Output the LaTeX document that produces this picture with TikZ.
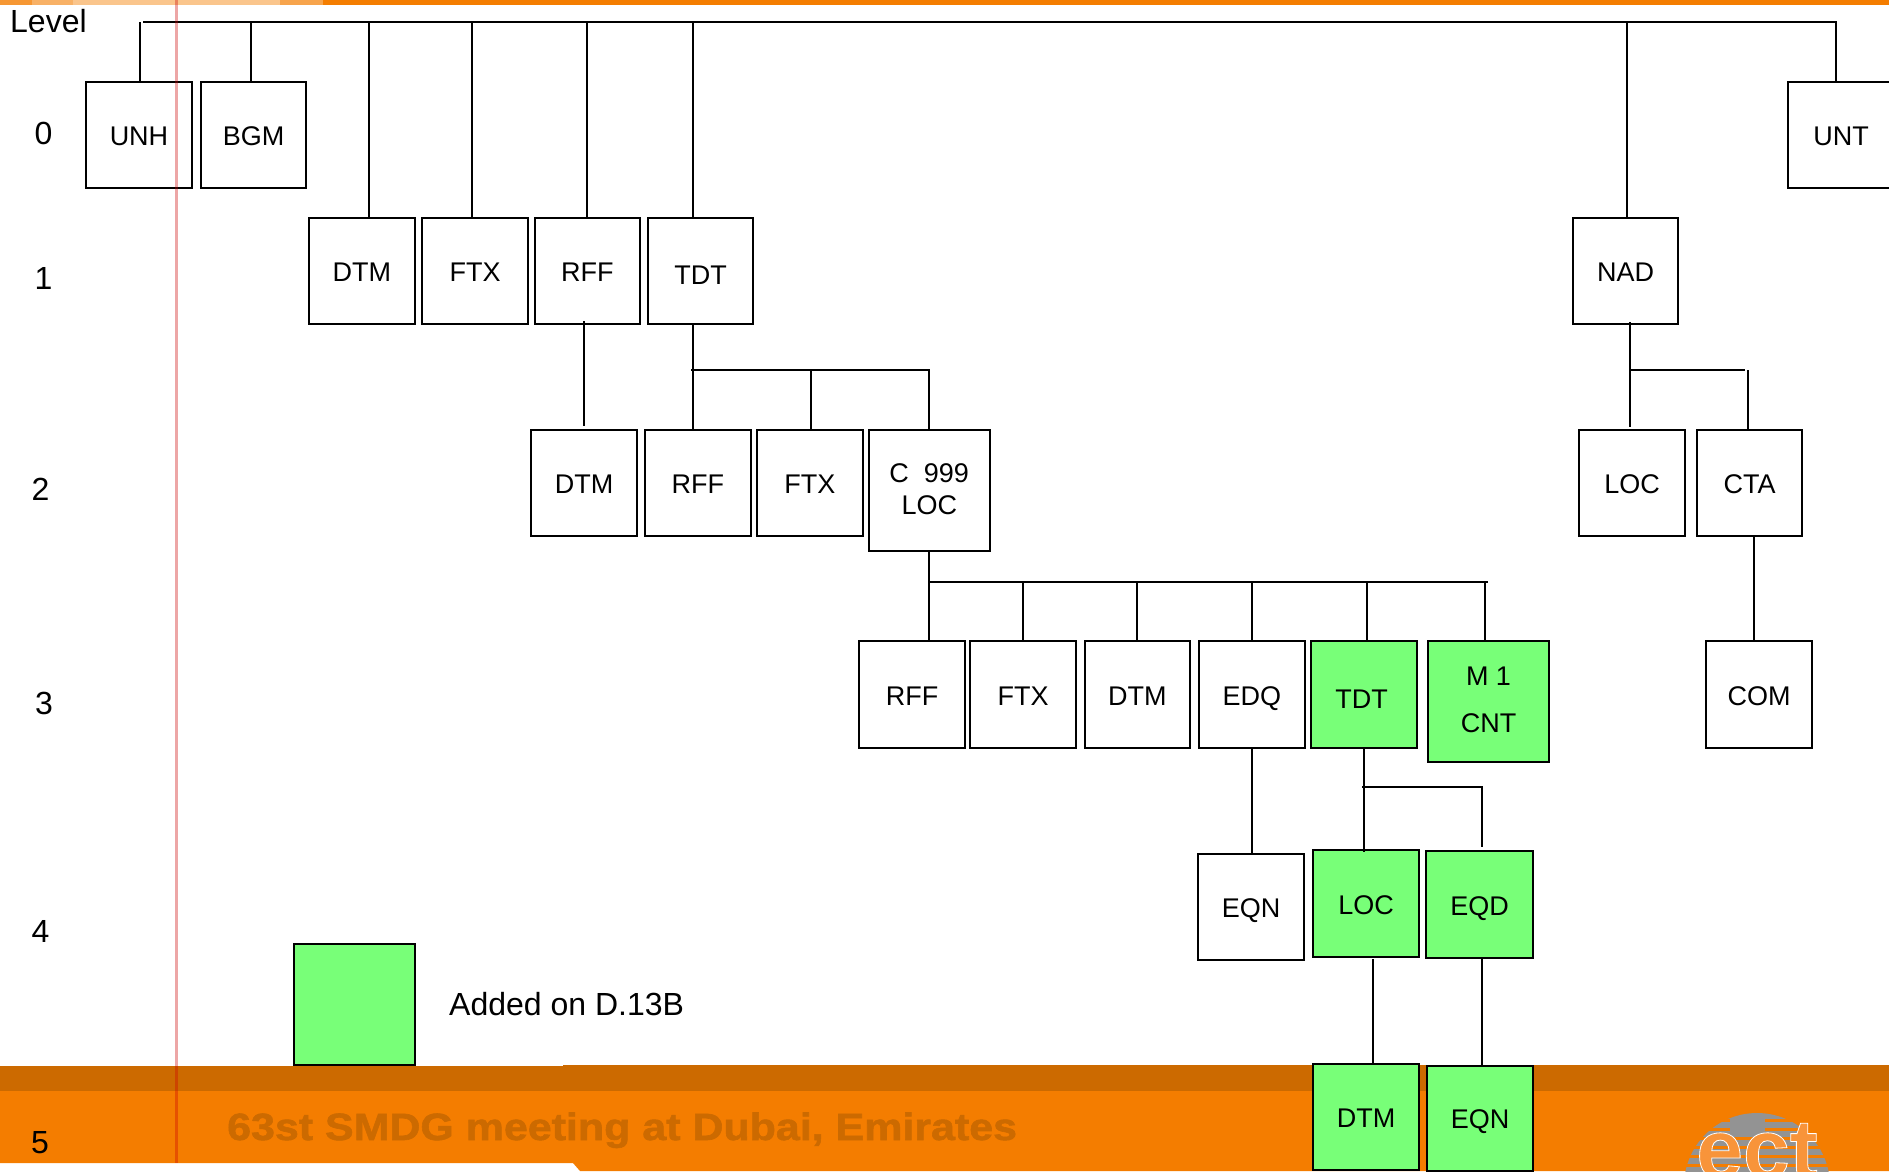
\documentclass[tikz,border=0pt]{standalone}
\usepackage{fontspec}
\setmainfont{Liberation Sans}
\definecolor{addgreen}{HTML}{78FF78}
\definecolor{bandorange}{HTML}{F47D00}
\definecolor{banddark}{HTML}{CC6A00}
\definecolor{logoorange}{HTML}{F8943A}
\tikzset{
  x=1pt,y=-1pt,
  conn/.style={line width=2pt,black,line cap=butt},
  seg/.style={draw=black,line width=2pt,fill=white,inner sep=0pt,align=center,text height=21pt,text depth=0pt,font=\fontsize{27}{32}\selectfont},
  added/.style={seg,fill=addgreen},
  multi/.style={text height={},text depth={}},
  lvl/.style={font=\fontsize{32}{36}\selectfont,inner sep=0pt},
}
\newcommand{\segbox}[7][seg]{% style, name, x1,y1,x2,y2, text
  \node[#1,minimum width={(#5)-(#3)},minimum height={(#6)-(#4)}] (#2) at ({((#3)+(#5))/2},{((#4)+(#6))/2}) {#7};}
\begin{document}
\begin{tikzpicture}
\useasboundingbox (0,0) rectangle (1889,1171);
\clip (0,0) rectangle (1889,1171);
% page decoration
\fill[bandorange] (323,0) rectangle (1889,5);
\fill[bandorange!80!white] (0,0) rectangle (32,5);
\fill[bandorange!60!white] (32,0) rectangle (73,5);
\fill[bandorange!45!white] (73,0) rectangle (280,5);
\fill[bandorange!70!white] (280,0) rectangle (323,5);
\fill[bandorange] (0,1091) -- (1889,1091) -- (1889,1171) -- (580,1171) -- (573,1163) -- (0,1163) -- cycle;
\fill[banddark] (0,1066) rectangle (563,1091);
\fill[banddark] (563,1064.5) rectangle (1889,1091);
\node[anchor=base west,inner sep=0pt,text=banddark,font=\fontsize{38}{44}\selectfont\bfseries\addfontfeatures{FakeStretch=1.13,FakeBold=1.5}] (footer) at (227,1140) {63st SMDG meeting at Dubai, Emirates};
% logo
\begin{scope}
\clip (1757,1186) circle (73);
\foreach \yy in {1113,1122,1131,1140,1149,1158,1167}{\fill[gray!85] (1680,\yy) rectangle (1835,\yy+5.5);}
\fill[gray!85] (1730,1118) rectangle (1765,1134);
\end{scope}
\node[anchor=base,inner sep=0pt,text=logoorange,font=\fontsize{84}{90}\selectfont\bfseries] (logo) at (1757,1178) {\special{pdf:literal direct 2 Tr 1 1 1 RG 0.8 w}ect\special{pdf:literal direct 0 Tr}};
% level labels
\node[anchor=base west,lvl] (lv) at (10,32) {Level};
\node[lvl] (l0) at (43.5,133) {0};
\node[lvl] (l1) at (43.5,278) {1};
\node[lvl] (l2) at (40.5,489) {2};
\node[lvl] (l3) at (44,703.5) {3};
\node[lvl] (l4) at (40.5,931.5) {4};
\node[lvl] (l5) at (40,1143) {5};
% segments
\segbox{unh}{86}{82}{192}{188}{UNH}
\segbox{bgm}{201}{82}{306}{188}{BGM}
\segbox{unt}{1788}{82}{1894}{188}{UNT}
\segbox{dtmA}{309}{218}{414.5}{324}{DTM}
\segbox{ftxA}{422}{218}{528}{324}{FTX}
\segbox{rffA}{534.5}{218}{640}{324}{RFF}
\segbox{tdtA}{648}{218}{753}{324}{\raisebox{-3pt}{TDT}}
\segbox{nad}{1573}{218}{1678}{324}{NAD}
\segbox{dtmB}{531}{430}{637}{536}{DTM}
\segbox{rffB}{645}{430}{750.5}{536}{RFF}
\segbox{ftxB}{757}{430}{862.5}{536}{FTX}
\segbox[seg,multi]{cloc}{869}{430}{989.5}{551}{\raisebox{2pt}{C\ \ 999}\\\raisebox{2pt}{LOC}}
\segbox{locB}{1579}{430}{1685}{536}{LOC}
\segbox{cta}{1697}{430}{1802}{536}{CTA}
\segbox{rffC}{859}{641}{965}{748}{RFF}
\segbox{ftxC}{970}{641}{1076}{748}{FTX}
\segbox{dtmC}{1084.5}{641}{1190}{748}{DTM}
\segbox{edq}{1199}{641}{1304.5}{748}{EDQ}
\segbox[added]{tdtC}{1310.5}{641}{1416.5}{748}{\hspace*{-4pt}\raisebox{-3.5pt}{TDT}}
\segbox[added,multi]{cnt}{1428}{641}{1549}{762}{\raisebox{3pt}{M 1}\\[15pt]\raisebox{3pt}{CNT}}
\segbox{com}{1706}{641}{1812}{748}{COM}
\segbox{eqnD}{1198}{854}{1304}{960}{EQN}
\segbox[added]{locD}{1313}{850}{1419}{957}{LOC}
\segbox[added]{eqd}{1426}{851}{1533}{958}{EQD}
\segbox[added]{dtmE}{1313}{1064}{1419}{1170}{DTM}
\segbox[added]{eqnE}{1427}{1065.5}{1533}{1170.5}{EQN}
% legend
\segbox[added]{key}{294}{944}{415}{1065}{}
\node[anchor=west,inner sep=0pt,font=\fontsize{32}{36}\selectfont] (keytext) at (449,1004) {Added on D.13B};
% junctions
\coordinate (b0a) at (143,21.5);
\coordinate (b0b) at (1836,21.5);
\coordinate (tUnh) at (139.5,22);
\coordinate (tBgm) at (251,21.5);
\coordinate (tDtm) at (369,21.5);
\coordinate (tFtx) at (472,21.5);
\coordinate (tRff) at (587,21.5);
\coordinate (tTdt) at (693,21.5);
\coordinate (tNad) at (1627,21.5);
\coordinate (sRff) at (584,321);
\coordinate (eRff) at (584,426);
\coordinate (b2a) at (691,370);
\coordinate (b2b) at (929,370);
\coordinate (t2r) at (693,370);
\coordinate (t2f) at (811,370);
\coordinate (b3a) at (929,582);
\coordinate (b3b) at (1488,582);
\coordinate (t3f) at (1023,582);
\coordinate (t3d) at (1137,582);
\coordinate (t3e) at (1252,582);
\coordinate (t3t) at (1367,582);
\coordinate (t3c) at (1485,582);
\coordinate (sNad) at (1630,322);
\coordinate (eNad) at (1630,427);
\coordinate (nj) at (1630,370);
\coordinate (njb) at (1745,370);
\coordinate (tCta) at (1748,370);
\coordinate (sCta) at (1754,536);
\coordinate (sLoc) at (1373,959);
\coordinate (sEqd) at (1482,959);
\coordinate (sEdq) at (1252,748);
\coordinate (sTdt) at (1364,748);
\coordinate (eTdt) at (1364,852);
\coordinate (b4a) at (1362,787);
\coordinate (b4b) at (1482,787);
\coordinate (eEqd) at (1482,847);
% connectors
\draw[conn] (b0a) -- (b0b);
\draw[conn] (tUnh) -- (tUnh |- unh.north);
\draw[conn] (tBgm) -- (tBgm |- bgm.north);
\draw[conn] (tDtm) -- (tDtm |- dtmA.north);
\draw[conn] (tFtx) -- (tFtx |- ftxA.north);
\draw[conn] (tRff) -- (tRff |- rffA.north);
\draw[conn] (tTdt) -- (tTdt |- tdtA.north);
\draw[conn] (tNad) -- (tNad |- nad.north);
\draw[conn,line cap=rect] (b0b) -- (b0b |- unt.north);
\draw[conn] (sRff) -- (eRff);
\draw[conn] (t2r |- tdtA.south) -- (t2r |- rffB.north);
\draw[conn] (b2a) -- (b2b) -- (b2b |- cloc.north);
\draw[conn] (t2f) -- (t2f |- ftxB.north);
\draw[conn] (b3a |- cloc.south) -- (b3a |- rffC.north);
\draw[conn] (b3a) -- (b3b);
\draw[conn] (t3f) -- (t3f |- ftxC.north);
\draw[conn] (t3d) -- (t3d |- dtmC.north);
\draw[conn] (t3e) -- (t3e |- edq.north);
\draw[conn] (t3t) -- (t3t |- tdtC.north);
\draw[conn] (t3c) -- (t3c |- cnt.north);
\draw[conn] (sNad) -- (eNad);
\draw[conn] (nj) -- (njb);
\draw[conn] (tCta) -- (tCta |- cta.north);
\draw[conn] (sCta) -- (sCta |- com.north);
\draw[conn] (sEdq) -- (sEdq |- eqnD.north);
\draw[conn] (sTdt) -- (eTdt);
\draw[conn] (b4a) -- (b4b) -- (eEqd);
\draw[conn] (sLoc) -- (sLoc |- dtmE.north);
\draw[conn] (sEqd) -- (sEqd |- eqnE.north);
% margin rule
\fill[red!80!black,opacity=0.35] (174.5,0) rectangle (178,1163);
\end{tikzpicture}
\end{document}
